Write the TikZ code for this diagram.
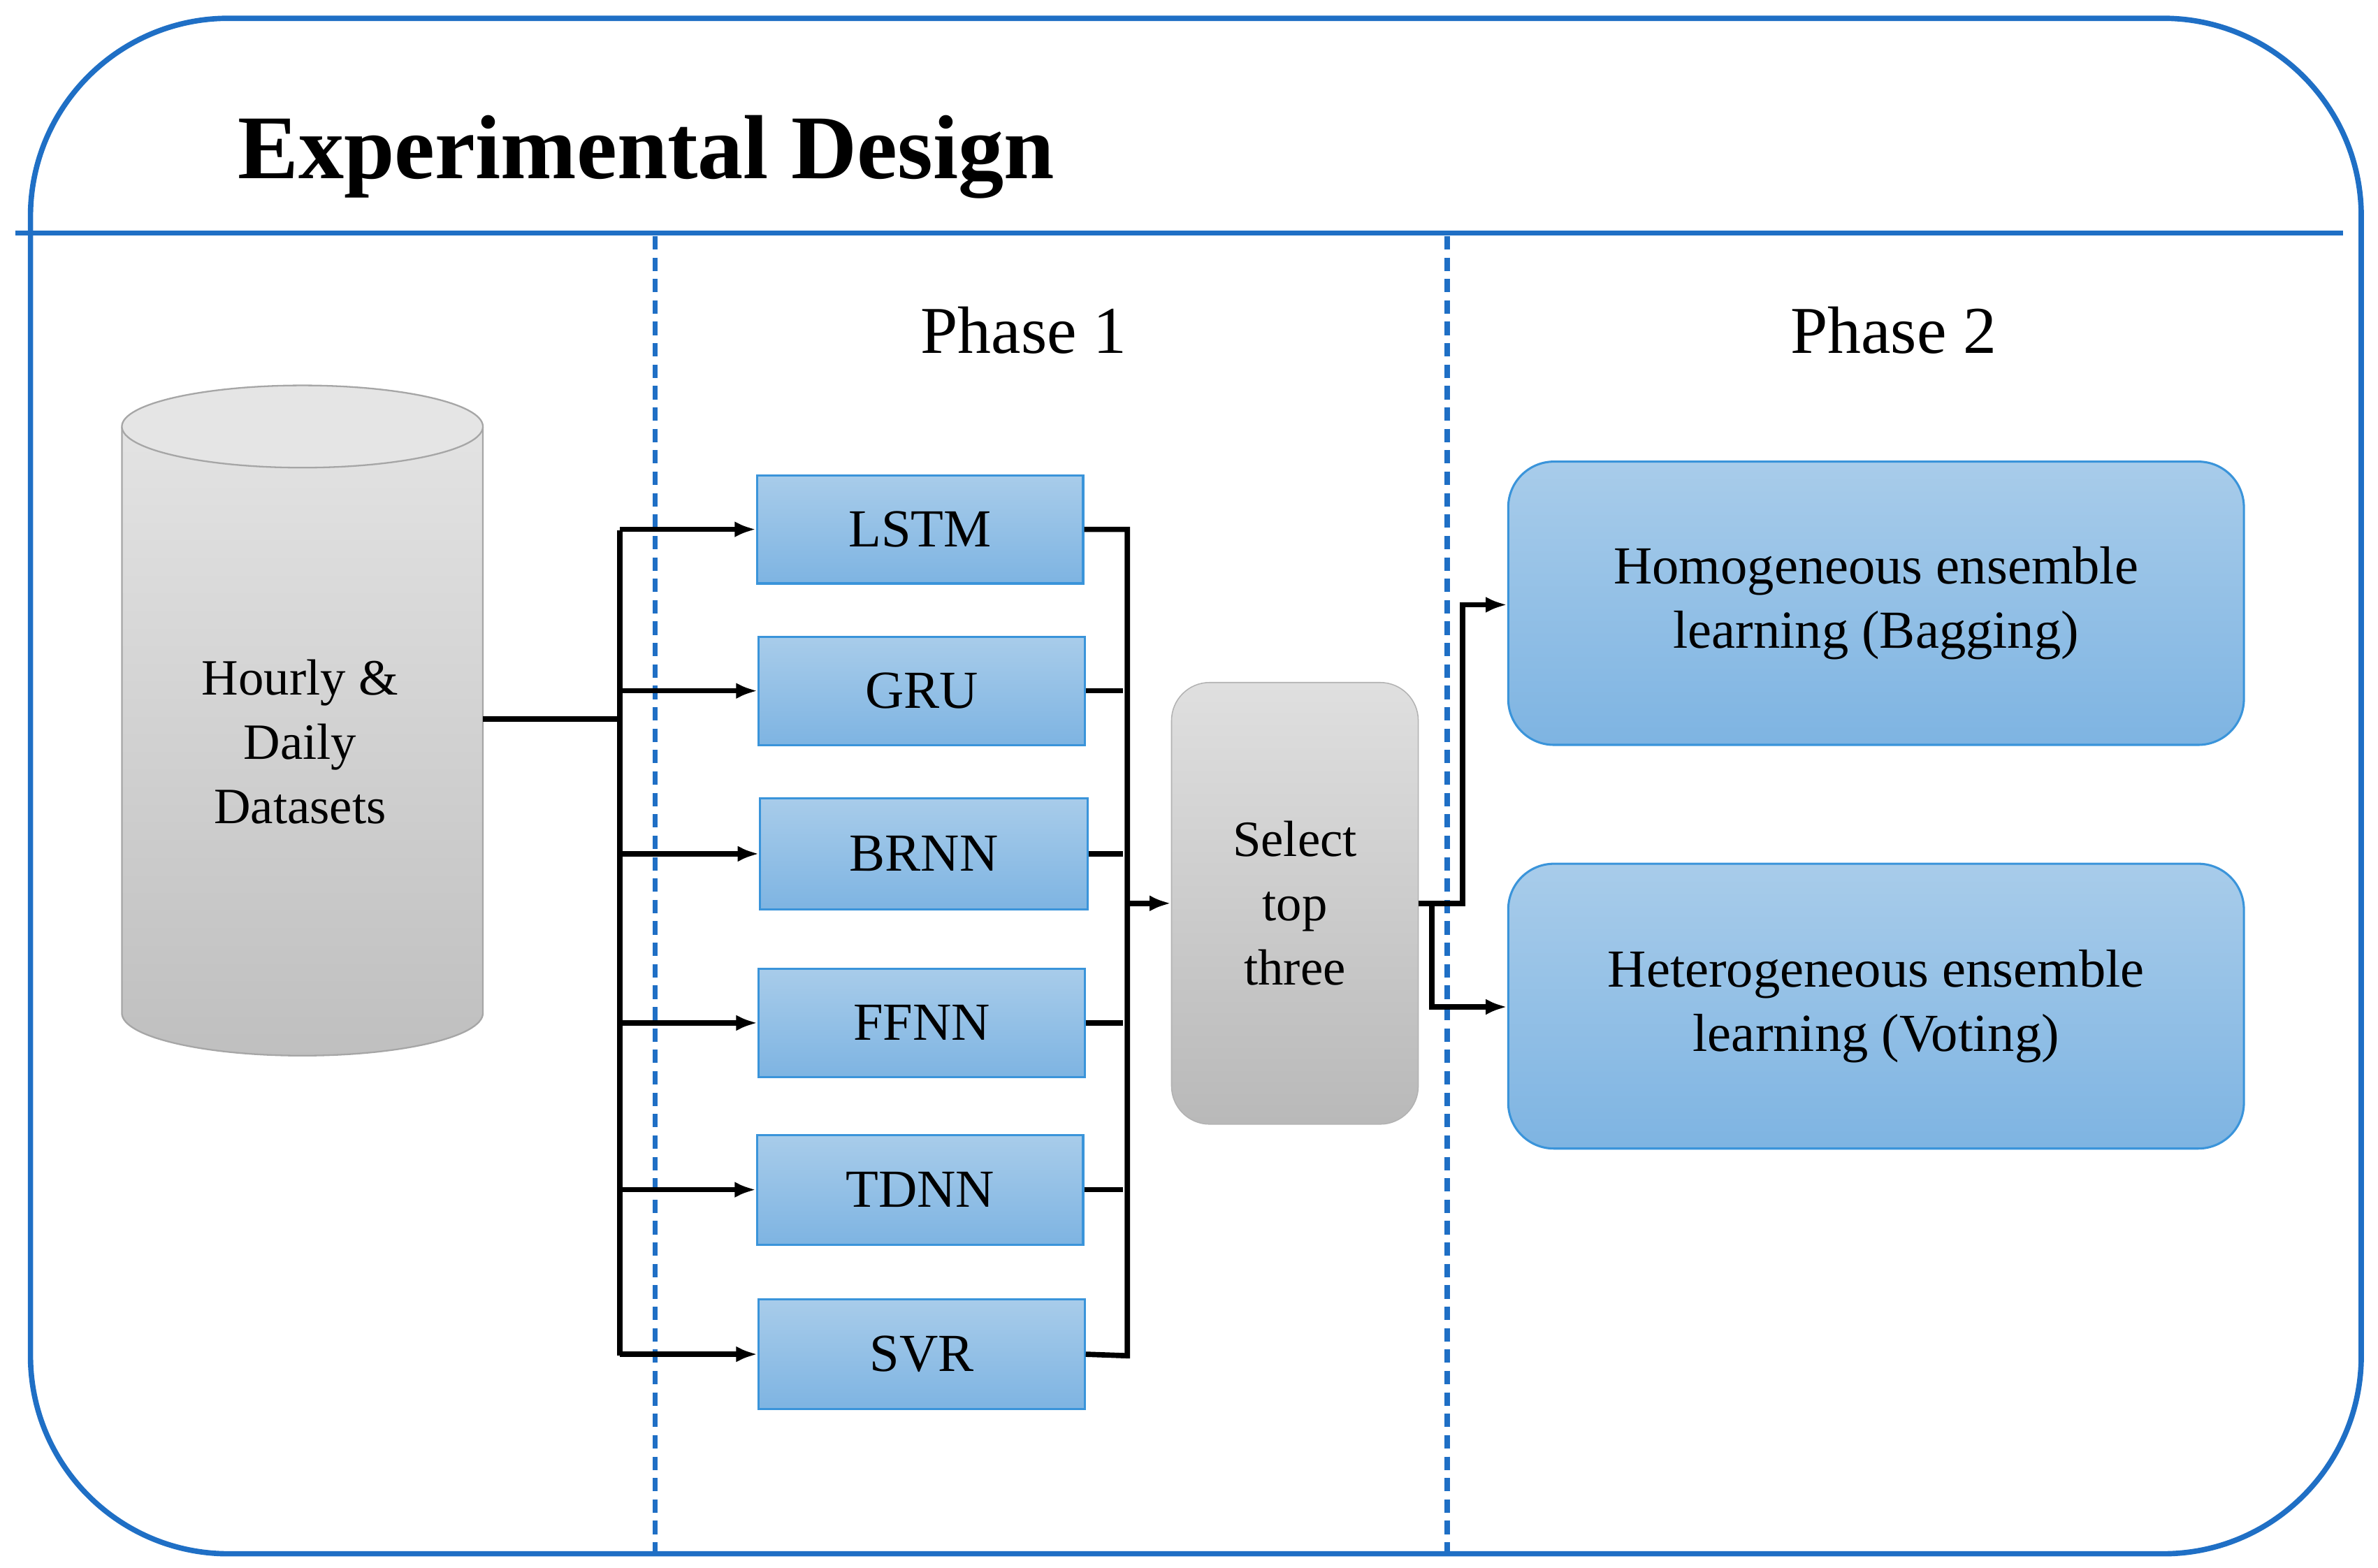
\documentclass[tikz,border=0pt]{standalone}
\usepackage{fontspec}
\setmainfont{Liberation Serif}
\usetikzlibrary{arrows.meta,shapes.geometric}
\definecolor{bl}{HTML}{1F6FC5}
\definecolor{bb}{HTML}{3A94DA}
\definecolor{btop}{HTML}{A8CCEA}
\definecolor{bbot}{HTML}{7EB4E2}
\begin{document}
\begin{tikzpicture}[x=0.02cm,y=-0.02cm,
 model/.style={draw=bb,line width=0.8pt,top color=btop,bottom color=bbot,inner sep=0pt,font=\fontsize{20}{22}\selectfont},
 ens/.style={model,rounded corners=0.6cm,align=center,font=\fontsize{20}{24}\selectfont},
 con/.style={line width=2pt,black},
 arr/.style={con,-{Latex[length=8pt,width=6pt]}}]
\useasboundingbox (0,0) rectangle (1561,1029.3);
\draw[bl,line width=2pt,rounded corners=2.6cm] (20,12) rectangle (1550,1020);
\draw[bl,line width=2pt] (10,153) -- (1538,153);
\node[anchor=west,font=\bfseries\fontsize{34}{36}\selectfont] (title) at (150,103) {Experimental Design};
\draw[bl,line width=2pt,dash pattern=on 5pt off 3pt] (430,155) -- (430,1020);
\draw[bl,line width=2pt,dash pattern=on 5pt off 3pt] (950,155) -- (950,1020);
\node[font=\fontsize{25}{27}\selectfont] (p1) at (672,217) {Phase 1};
\node[font=\fontsize{25}{27}\selectfont] (p2) at (1243,217) {Phase 2};
% cylinder
\fill[top color=gray!22,bottom color=gray!50] (80,280) -- (80,665) arc[start angle=180,end angle=360,x radius=118.5,y radius=-28] -- (317,280) -- cycle;
\draw[gray!70,line width=0.6pt] (80,280) -- (80,665) arc[start angle=180,end angle=360,x radius=118.5,y radius=-28] -- (317,280);
\draw[gray!70,fill=gray!20,line width=0.6pt] (198.5,280) ellipse[x radius=118.5,y radius=27];
\node[align=center,font=\fontsize{19}{24}\selectfont] (data) at (197,487) {Hourly \&\\Daily\\Datasets};
\coordinate (dout) at (317,472);
% models
\foreach \n/\t/\xa/\xb/\ya/\yb in {lstm/LSTM/497/711/312/383, gru/GRU/498/712/418/489, brnn/BRNN/499/714/524/597, ffnn/FFNN/498/712/636/707, tdnn/TDNN/497/711/745/817, svr/SVR/498/712/853/925}
 \node[model,minimum width={(\xb-\xa)*0.02cm},minimum height={(\yb-\ya)*0.02cm}] (\n) at ({(\xa+\xb)/2},{(\ya+\yb)/2}) {\t};
\draw[con] (dout) -- (407,472);
\draw[con] (407,348) -- (407,890);
\foreach \n in {lstm,gru,brnn,ffnn,tdnn,svr} \draw[arr] (407,0 |- \n.west) -- (\n.west);
\draw[con] (lstm.east) -- (740,0 |- lstm.east) -- (740,890) -- (svr.east);
\foreach \n in {gru,brnn,ffnn,tdnn} \draw[con] (\n.east) -- (737,0 |- \n.east);
\node[draw=gray!60,rounded corners=0.5cm,top color=gray!25,bottom color=gray!55,minimum width=3.24cm,minimum height=5.8cm,align=center,font=\fontsize{19}{24}\selectfont] (sel) at (850,593) {Select\\top\\three};
\draw[arr] (740,593) -- (sel.west);
\node[ens,minimum width=9.66cm,minimum height=3.72cm] (homo) at (1231.5,396) {Homogeneous ensemble\\learning (Bagging)};
\node[ens,minimum width=9.66cm,minimum height=3.74cm] (hete) at (1231.5,660.5) {Heterogeneous ensemble\\learning (Voting)};
\draw[arr] (sel.east) -- (960,593) -- (960,397) -- (homo.west |- 0,397);
\draw[arr] (940,593) -- (940,661) -- (hete.west |- 0,661);
\end{tikzpicture}
\end{document}
